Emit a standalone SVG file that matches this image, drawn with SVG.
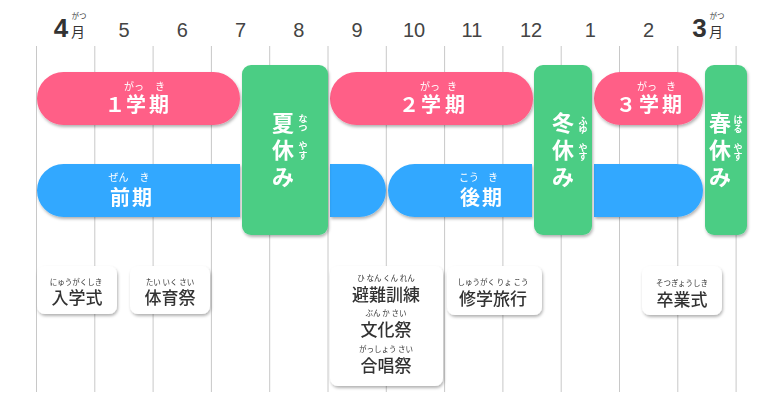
<svg xmlns="http://www.w3.org/2000/svg" width="780" height="410" viewBox="0 0 780 410">
<defs>
<filter id="sh" x="-10%" y="-10%" width="125%" height="130%">
<feDropShadow dx="1" dy="2" stdDeviation="1.5" flood-color="#000" flood-opacity="0.3"/>
</filter>
<style>
.grid line{stroke:#c8c8c8;stroke-width:1}
.mon{font-family:"Liberation Sans","Noto Sans",sans-serif;font-size:20px;fill:#444;text-anchor:middle}
.monb{font-family:"Liberation Sans","Noto Sans",sans-serif;font-size:26px;font-weight:bold;fill:#333;text-anchor:middle}
.jm{font-family:"Noto Sans CJK JP",sans-serif;fill:#333;text-anchor:middle}
.pink{fill:#FF5E87}
.blue{fill:#33A8FF}
.green{fill:#4BCD84}
.wt{font-family:"Noto Sans CJK JP",sans-serif;font-weight:bold;fill:#fff;text-anchor:middle;font-size:20px}
.wv{font-family:"Noto Sans CJK JP",sans-serif;font-weight:bold;fill:#fff;text-anchor:middle;font-size:22px}
.rb{font-family:"Noto Sans CJK JP",sans-serif;fill:#fff;text-anchor:middle;font-size:10px}
.rv{font-family:"Noto Sans CJK JP",sans-serif;fill:#fff;text-anchor:middle;font-size:9px;font-weight:bold}
.box{fill:#fff}
.et{font-family:"Noto Sans CJK JP",sans-serif;fill:#333;text-anchor:middle;font-size:17px;font-weight:500}
.er{font-family:"Noto Sans CJK JP",sans-serif;fill:#333;text-anchor:middle;font-size:7.5px}
</style>
</defs>
<rect width="780" height="410" fill="#fff"/>
<g id="grid" class="grid">
<line x1="36.5" y1="46" x2="36.5" y2="392"/>
<line x1="94.8" y1="46" x2="94.8" y2="392"/>
<line x1="153.1" y1="46" x2="153.1" y2="392"/>
<line x1="211.4" y1="46" x2="211.4" y2="392"/>
<line x1="269.7" y1="46" x2="269.7" y2="392"/>
<line x1="328" y1="46" x2="328" y2="392"/>
<line x1="386.3" y1="46" x2="386.3" y2="392"/>
<line x1="444.6" y1="46" x2="444.6" y2="392"/>
<line x1="502.9" y1="46" x2="502.9" y2="392"/>
<line x1="561.2" y1="46" x2="561.2" y2="392"/>
<line x1="619.5" y1="46" x2="619.5" y2="392"/>
<line x1="677.8" y1="46" x2="677.8" y2="392"/>
<line x1="736.1" y1="46" x2="736.1" y2="392"/>
</g>
<g id="months">
<text class="monb" x="61" y="37">4</text>
<text class="jm" x="78" y="37" font-size="14">月</text>
<text class="jm" x="79" y="19" font-size="7.5">がつ</text>
<text class="mon" x="124" y="37">5</text>
<text class="mon" x="182.3" y="37">6</text>
<text class="mon" x="240.5" y="37">7</text>
<text class="mon" x="298.8" y="37">8</text>
<text class="mon" x="357.1" y="37">9</text>
<text class="mon" x="414" y="37">10</text>
<text class="mon" x="472" y="37">11</text>
<text class="mon" x="531" y="37">12</text>
<text class="mon" x="590.4" y="37">1</text>
<text class="mon" x="648.6" y="37">2</text>
<text class="monb" x="699.5" y="37">3</text>
<text class="jm" x="716" y="37" font-size="14">月</text>
<text class="jm" x="717" y="19" font-size="7.5">がつ</text>
</g>
<g id="term1" filter="url(#sh)">
<rect class="pink" x="37" y="72" width="203" height="53" rx="26.5"/>
<text class="wt" x="115 136 159" y="112">１学期</text>
<text class="rb" x="134" y="90">がっ</text>
<text class="rb" x="160" y="90">き</text>
</g>
<g id="term2" filter="url(#sh)">
<rect class="pink" x="330" y="72" width="203" height="53" rx="26.5"/>
<text class="wt" x="409 431 455" y="112">２学期</text>
<text class="rb" x="430" y="90">がっ</text>
<text class="rb" x="452" y="90">き</text>
</g>
<g id="term3" filter="url(#sh)">
<rect class="pink" x="594" y="72" width="109" height="53" rx="26.5"/>
<text class="wt" x="626 649 672" y="112">３学期</text>
<text class="rb" x="647" y="90">がっ</text>
<text class="rb" x="671" y="90">き</text>
</g>
<g id="zenki" filter="url(#sh)">
<path class="blue" d="M63.5 164 H240 V217 H63.5 A26.5 26.5 0 0 1 63.5 164 Z"/>
<path class="blue" d="M330 164 H359.5 A26.5 26.5 0 0 1 359.5 217 H330 Z"/>
<text class="wt" x="120 142" y="205" font-size="21">前期</text>
<text class="rb" x="118.5" y="181">ぜん</text>
<text class="rb" x="144.5" y="181">き</text>
</g>
<g id="kouki" filter="url(#sh)">
<path class="blue" d="M414.5 164 H532 V217 H414.5 A26.5 26.5 0 0 1 414.5 164 Z"/>
<path class="blue" d="M594 164 H676.5 A26.5 26.5 0 0 1 676.5 217 H594 Z"/>
<text class="wt" x="470 492" y="205" font-size="21">後期</text>
<text class="rb" x="469" y="181">こう</text>
<text class="rb" x="493" y="181">き</text>
</g>
<g id="summer" filter="url(#sh)">
<rect class="green" x="242" y="65" width="86" height="170" rx="9"/>
<text class="wv" x="283" y="131">夏</text>
<text class="wv" x="283" y="158">休</text>
<text class="wv" x="283" y="185">み</text>
<text class="rv" x="303" y="122">な</text>
<text class="rv" x="303" y="131">つ</text>
<text class="rv" x="303" y="149">や</text>
<text class="rv" x="303" y="159">す</text>
</g>
<g id="winter" filter="url(#sh)">
<rect class="green" x="534" y="65" width="58" height="170" rx="9"/>
<text class="wv" x="563" y="131">冬</text>
<text class="wv" x="563" y="158">休</text>
<text class="wv" x="563" y="185">み</text>
<text class="rv" x="583" y="124">ふ</text>
<text class="rv" x="583" y="133">ゆ</text>
<text class="rv" x="583" y="151">や</text>
<text class="rv" x="583" y="160">す</text>
</g>
<g id="spring" filter="url(#sh)">
<rect class="green" x="705" y="65" width="42" height="170" rx="9"/>
<text class="wv" x="720" y="131">春</text>
<text class="wv" x="720" y="158">休</text>
<text class="wv" x="720" y="185">み</text>
<text class="rv" x="738" y="123">は</text>
<text class="rv" x="738" y="132">る</text>
<text class="rv" x="738" y="151">や</text>
<text class="rv" x="738" y="160">す</text>
</g>
<g id="nyugakushiki" filter="url(#sh)">
<rect class="box" x="37" y="266" width="80" height="48" rx="8"/>
<text class="et" x="77" y="304">入学式</text>
<text class="er" x="76" y="285">にゅうがくしき</text>
</g>
<g id="taiikusai" filter="url(#sh)">
<rect class="box" x="130" y="266" width="80" height="48" rx="8"/>
<text class="et" x="170" y="304">体育祭</text>
<text class="er" x="170" y="285">たい いく さい</text>
</g>
<g id="events2" filter="url(#sh)">
<rect class="box" x="330" y="266" width="113" height="120" rx="8"/>
<text class="et" x="386" y="301" font-size="18">避難訓練</text>
<text class="er" x="386" y="281">ひ なん くん れん</text>
<text class="et" x="386" y="336" font-size="18">文化祭</text>
<text class="er" x="386" y="316">ぶん か さい</text>
<text class="et" x="386" y="372" font-size="18">合唱祭</text>
<text class="er" x="386" y="352">がっしょう さい</text>
</g>
<g id="shugakuryoko" filter="url(#sh)">
<rect class="box" x="447" y="266" width="95" height="49" rx="8"/>
<text class="et" x="493" y="305" font-size="17.5">修学旅行</text>
<text class="er" x="493" y="285">しゅうがく りょ こう</text>
</g>
<g id="sotsugyoshiki" filter="url(#sh)">
<rect class="box" x="642" y="266" width="80" height="49" rx="8"/>
<text class="et" x="682" y="306">卒業式</text>
<text class="er" x="682" y="286">そつぎょうしき</text>
</g>
</svg>
